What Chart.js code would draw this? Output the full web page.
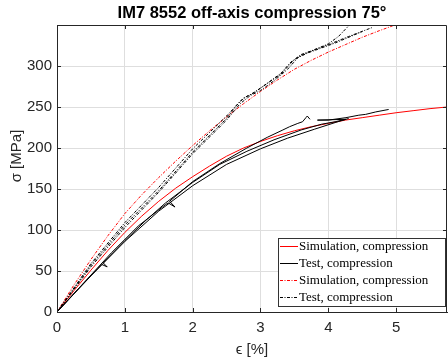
<!DOCTYPE html>
<html>
<head>
<meta charset="utf-8">
<script src="https://cdn.jsdelivr.net/npm/chart.js@4.4.1/dist/chart.umd.min.js"></script>
<style>
  html, body { margin: 0; padding: 0; background: #fff; }
  #wrap { width: 448px; height: 362px; }
</style>
</head>
<body>
<div id="wrap"><canvas id="chart" width="448" height="362"></canvas></div>
<script>
// Simulation, lower curve (solid red)
const simSolidX = [0, 0.25, 0.5, 0.75, 1, 1.25, 1.5, 1.75, 2, 2.25, 2.5, 2.75, 3, 3.25, 3.5, 3.75, 4, 4.25, 4.5, 4.75, 5, 5.25, 5.5, 5.75];
const simSolidY = [0, 26, 51, 75, 97, 117, 135, 151, 165, 178, 190, 200, 208, 215, 221, 226, 230, 234, 237, 240, 243, 245.5, 248, 250];

// Simulation, upper curve (dash-dot red)
const simDashX = [0, 0.25, 0.5, 0.75, 1, 1.25, 1.5, 1.75, 2, 2.25, 2.5, 2.75, 3, 3.25, 3.5, 3.75, 4, 4.25, 4.5, 4.75, 4.95];
const simDashY = [0, 33, 64, 93, 120, 143, 164, 184, 203, 221, 238, 254, 269, 283, 296, 307, 317, 326, 335, 343, 349];

// Tests, lower group (solid black)
const testL1X = [0, 0.3, 0.6, 0.66, 0.74, 0.68, 1, 1.3, 1.6, 2, 2.4, 2.8, 3.2, 3.6, 3.9, 4.1, 4.26, 3.84, 4.0, 4.26, 4.45, 4.55, 4.7, 4.89];
const testL1Y = [0, 27, 53, 58, 55, 60, 87, 111, 133, 158, 180, 196, 210, 222, 229, 232, 235, 234, 234, 237, 240, 241, 244, 247];
const testL2X = [0, 0.4, 0.8, 1.2, 1.6, 1.64, 1.74, 1.66, 2, 2.4, 2.8, 3.1, 3.33, 3.43, 3.55, 3.62, 3.67, 3.69, 3.73];
const testL2Y = [0, 36, 72, 105, 131, 133, 128, 135, 159, 181, 200, 213, 222, 226, 230, 232, 237, 239, 235];
const testL3X = [0, 0.5, 1, 1.5, 2, 2.5, 3, 3.4, 3.8, 4.1, 4.3];
const testL3Y = [0, 44, 86, 123, 154, 180, 199, 212, 223, 231, 236];

// Tests, upper group (dash-dot black)
const testU1X = [0, 0.5, 1, 1.5, 2, 2.5, 2.65, 2.75, 2.85, 3, 3.3, 3.5, 3.6, 3.8, 4.0, 4.15, 4.3];
const testU1Y = [0, 57, 106, 148, 195, 236, 252, 261, 265, 273, 290, 308, 314, 320, 327, 336, 349];
const testU2X = [0, 0.5, 1, 1.5, 2, 2.5, 2.7, 2.8, 2.9, 3.1, 3.3, 3.45, 3.6, 3.8, 4.0, 4.3, 4.65];
const testU2Y = [0, 59, 109, 152, 199, 239, 257, 263, 267, 279, 291, 305, 313, 320, 326, 336, 347];
const testU3X = [0, 0.5, 1, 1.5, 2, 2.5, 2.7, 2.85, 3, 3.2, 3.4, 3.55, 3.7, 3.9, 4.1, 4.5];
const testU3Y = [0, 55, 103, 146, 193, 234, 254, 264, 270, 282, 296, 310, 316, 322, 328, 342];

// axis ticks
const xTicks = [0, 1, 2, 3, 4, 5];
const yTicks = [0, 50, 100, 150, 200, 250, 300];

const axisColor = '#262626';
const gridColor = '#dedede';
const dashDot = [3, 1.5, 1, 1.5];
const sansFont = '"Liberation Sans", Arial, sans-serif';

function pts(xs, ys) {
    return xs.map((x, i) => ({ x: x, y: ys[i] }));
}

function line(label, xs, ys, color, dash) {
    return {
        label: label,
        data: pts(xs, ys),
        showLine: true,
        borderColor: color,
        borderWidth: 1,
        borderDash: dash,
        pointRadius: 0,
        tension: 0
    };
}

const datasets = [
    line('Test, compression', testL1X, testL1Y, '#000', []),
    line('Test, compression', testL2X, testL2Y, '#000', []),
    line('Test, compression', testL3X, testL3Y, '#000', []),
    line('Test, compression', testU1X, testU1Y, '#000', dashDot),
    line('Test, compression', testU2X, testU2Y, '#000', dashDot),
    line('Test, compression', testU3X, testU3Y, '#000', dashDot),
    line('Simulation, compression', simSolidX, simSolidY, '#ff0000', []),
    line('Simulation, compression', simDashX, simDashY, '#ff0000', dashDot)
];

// legend order as in the figure
const legendOrder = [6, 2, 7, 5];

// title, y label, box, inward ticks and legend
const decorations = {
    id: 'decorations',
    afterDraw(chart) {
        const ctx = chart.ctx;
        const a = chart.chartArea;
        ctx.save();

        // title centred on the axes
        ctx.fillStyle = '#000';
        ctx.font = 'bold 16.5px ' + sansFont;
        ctx.textAlign = 'center';
        ctx.textBaseline = 'middle';
        ctx.fillText('IM7 8552 off-axis compression 75°', (a.left + a.right) / 2, 13);

        // y label
        ctx.save();
        ctx.translate(17, 156);
        ctx.rotate(-Math.PI / 2);
        ctx.fillStyle = axisColor;
        ctx.font = '15px ' + sansFont;
        ctx.fillText('σ [MPa]', 0, 0);
        ctx.restore();

        // box
        ctx.strokeStyle = axisColor;
        ctx.lineWidth = 1;
        ctx.beginPath();
        ctx.moveTo(a.left, a.top + 0.5);
        ctx.lineTo(a.right - 0.5, a.top + 0.5);
        ctx.lineTo(a.right - 0.5, a.bottom);
        ctx.stroke();

        // inward ticks
        const xs = chart.scales.x, ys = chart.scales.y;
        const tl = 4;
        ctx.beginPath();
        xs.ticks.forEach(t => {
            const px = Math.round(xs.getPixelForValue(t.value)) + 0.5;
            ctx.moveTo(px, a.bottom); ctx.lineTo(px, a.bottom - tl);
            ctx.moveTo(px, a.top); ctx.lineTo(px, a.top + tl);
        });
        ys.ticks.forEach(t => {
            const py = Math.round(ys.getPixelForValue(t.value)) + 0.5;
            ctx.moveTo(a.left, py); ctx.lineTo(a.left + tl, py);
            ctx.moveTo(a.right, py); ctx.lineTo(a.right - tl, py);
        });
        ctx.stroke();

        // legend
        const bx = 278.5, by = 238.5, bw = 167, bh = 68;
        ctx.fillStyle = '#fff';
        ctx.fillRect(bx, by, bw, bh);
        ctx.strokeStyle = '#333';
        ctx.strokeRect(bx, by, bw, bh);
        ctx.font = '13px "Liberation Serif", "Times New Roman", serif';
        ctx.textAlign = 'left';
        ctx.textBaseline = 'middle';
        legendOrder.forEach((di, i) => {
            const ds = chart.data.datasets[di];
            const y = 246.5 + i * 17;
            ctx.strokeStyle = ds.borderColor;
            ctx.setLineDash(ds.borderDash);
            ctx.beginPath();
            ctx.moveTo(280, y);
            ctx.lineTo(298, y);
            ctx.stroke();
            ctx.setLineDash([]);
            ctx.fillStyle = '#000';
            ctx.fillText(ds.label, 299, y);
        });

        ctx.restore();
    }
};

new Chart(document.getElementById('chart'), {
    type: 'scatter',
    data: { datasets: datasets },
    options: {
        responsive: false,
        animation: false,
        layout: { padding: { top: 25, right: 1, left: 0, bottom: 0 } },
        plugins: {
            legend: { display: false },
            tooltip: { enabled: false }
        },
        scales: {
            x: {
                type: 'linear',
                min: 0,
                max: 5.75,
                afterFit: s => { s.height = 50; },
                afterBuildTicks: s => { s.ticks = xTicks.map(v => ({ value: v })); },
                ticks: {
                    color: axisColor,
                    font: { size: 15, family: sansFont },
                    padding: 7
                },
                grid: { color: gridColor, drawTicks: false },
                border: { color: axisColor, width: 1 },
                title: {
                    display: true,
                    text: 'ϵ [%]',
                    color: axisColor,
                    font: { size: 15, family: sansFont },
                    padding: { top: 0, bottom: 3 }
                }
            },
            y: {
                type: 'linear',
                min: 0,
                max: 350,
                afterFit: s => { s.width = 57; },
                afterBuildTicks: s => { s.ticks = yTicks.map(v => ({ value: v })); },
                ticks: {
                    color: axisColor,
                    font: { size: 15, family: sansFont },
                    padding: 5
                },
                grid: { color: gridColor, drawTicks: false },
                border: { color: axisColor, width: 1 }
            }
        }
    },
    plugins: [decorations]
});
</script>
</body>
</html>
